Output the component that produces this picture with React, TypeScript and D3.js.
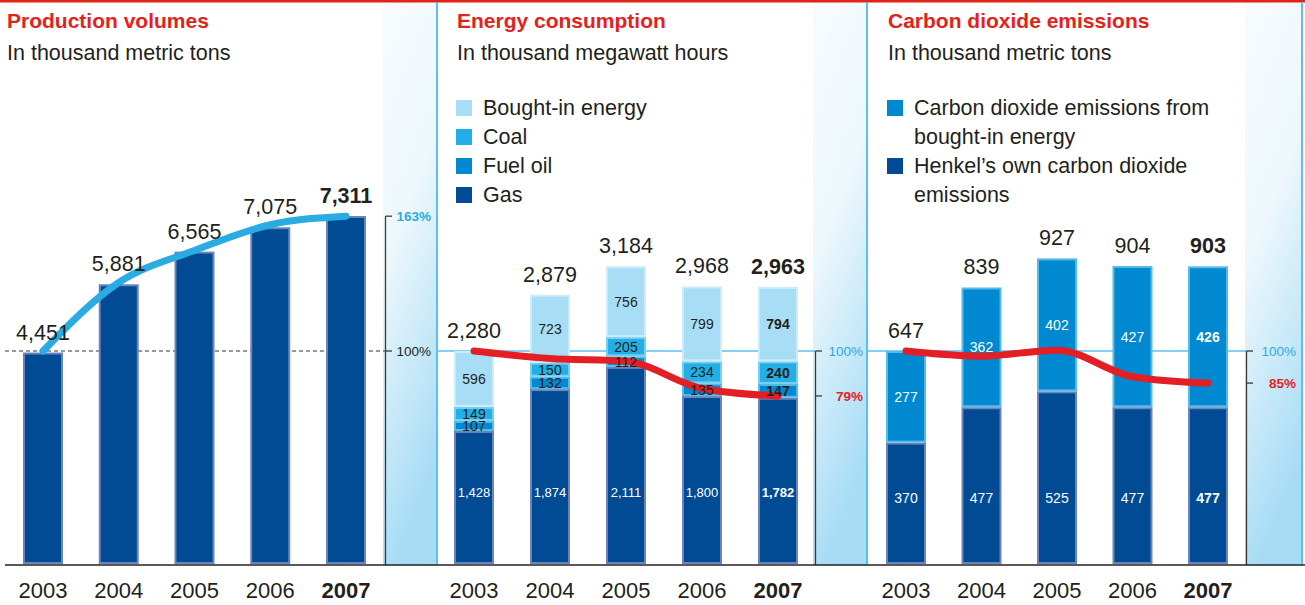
import React, { useEffect } from "react";
import * as d3 from "d3";

// ---------- data ----------
const years = ["2003", "2004", "2005", "2006", "2007"];

const production = [4451, 5881, 6565, 7075, 7311];
const productionIndex = [100, 132, 147, 159, 163];

const energyGas = [1428, 1874, 2111, 1800, 1782];
const energyFuelOil = [107, 132, 112, 135, 147];
const energyCoal = [149, 150, 205, 234, 240];
const energyBought = [596, 723, 756, 799, 794];
const energyTotal = [2280, 2879, 3184, 2968, 2963];
const energyIndex = [100, 96.5, 95.2, 82.5, 79];

const co2Own = [370, 477, 525, 477, 477];
const co2Bought = [277, 362, 402, 427, 426];
const co2Total = [647, 839, 927, 904, 903];
const co2Index = [100, 97.6, 100.4, 88, 85];

const energyLegend = ["Bought-in energy", "Coal", "Fuel oil", "Gas"];
const co2Legend = [
  ["Carbon dioxide emissions from", "bought-in energy"],
  ["Henkel\u2019s own carbon dioxide", "emissions"],
];

const FONT = "'Liberation Sans', Arial, Helvetica, sans-serif";
const C = {
  navy: "#004b93",
  navyStroke: "#6c84bc",
  mid: "#0089d0",
  midStroke: "#55bbe8",
  coal: "#22afe6",
  coalStroke: "#76cef0",
  light: "#a8ddf6",
  lightStroke: "#cbedfb",
  line: "#2aabe2",
  red: "#e31e24",
  title: "#e2231a",
  text: "#231f20",
  divider: "#5bc0eb",
  axis: "#3a3a3a",
};

const fmt = d3.format(",");

type Seg = { y0: number; y1: number; fill: string; stroke: string };

function SegRect({ x, w, top, bottom, fill, stroke }: any) {
  const h = bottom - top;
  return (
    <rect
      x={x + 1}
      y={top + 1}
      width={w - 2}
      height={Math.max(0, h - 2)}
      fill={fill}
      stroke={stroke}
      strokeWidth={2}
    />
  );
}

export default function App() {
  useEffect(() => {
    document.body.style.margin = "0";
    document.body.style.overflow = "hidden";
  }, []);

  const W = 1305;
  const H = 605;
  const base = 565;
  const barW = 40;

  const x1 = d3.scalePoint<string>().domain(years).range([43, 346]);
  const x2 = d3.scalePoint<string>().domain(years).range([474, 778]);
  const x3 = d3.scalePoint<string>().domain(years).range([906, 1208]);

  const yProd = d3.scaleLinear().domain([0, 7311]).range([base, 216]);
  const yEnergy = d3.scaleLinear().domain([0, 2280]).range([base, 351]);
  const yCo2 = d3.scaleLinear().domain([0, 647]).range([base, 351]);
  const yIdx = d3.scaleLinear().domain([0, 100]).range([base, 351]);

  const idxLine = (x: d3.ScalePoint<string>, vals: number[]) =>
    d3
      .line<number>()
      .x((_, i) => x(years[i]) as number)
      .y((d) => yIdx(d))
      .curve(d3.curveMonotoneX)(vals) as string;

  const energyRows = years.map((y, i) => ({
    year: y,
    gas: energyGas[i],
    fuel: energyFuelOil[i],
    coal: energyCoal[i],
    bought: energyBought[i],
  }));
  const energyKeys = ["gas", "fuel", "coal", "bought"];
  const energyStack = d3.stack<any>().keys(energyKeys)(energyRows);
  const energyFill: Record<string, [string, string]> = {
    gas: [C.navy, C.navyStroke],
    fuel: [C.mid, C.midStroke],
    coal: [C.coal, C.coalStroke],
    bought: [C.light, C.lightStroke],
  };

  const co2Rows = years.map((y, i) => ({ year: y, own: co2Own[i], bought: co2Bought[i] }));
  const co2Stack = d3.stack<any>().keys(["own", "bought"])(co2Rows);
  const co2Fill: Record<string, [string, string]> = {
    own: [C.navy, C.navyStroke],
    bought: [C.mid, C.midStroke],
  };

  const legendColors = [C.light, C.coal, C.mid, C.navy];

  const strips = [
    [383, 437],
    [813, 867],
    [1245, 1302],
  ];

  const isLast = (i: number) => i === years.length - 1;

  return (
    <svg
      width={W}
      height={H}
      style={{ position: "absolute", left: 0, top: 0, fontFamily: FONT }}
    >
      <defs>
        <linearGradient id="strip" x1="0" y1="0" x2="0.25" y2="1">
          <stop offset="0" stopColor="#f7fcfe" />
          <stop offset="0.45" stopColor="#edf7fc" />
          <stop offset="1" stopColor="#a7dcf5" />
        </linearGradient>
      </defs>
      <rect x={0} y={0} width={W} height={H} fill="#fff" />

      {/* strips */}
      {strips.map(([a, b], i) => (
        <rect key={i} x={a} y={2} width={b - a} height={base - 2} fill="url(#strip)" />
      ))}

      {/* top red rule */}
      <rect x={0} y={0} width={W} height={2.5} fill={C.title} />

      {/* panel dividers */}
      {[437, 867, 1302].map((x) => (
        <line key={x} x1={x} x2={x} y1={2} y2={base} stroke={C.divider} strokeWidth={2} />
      ))}

      {/* titles */}
      {[
        [7, "Production volumes", "In thousand metric tons"],
        [457, "Energy consumption", "In thousand megawatt hours"],
        [888, "Carbon dioxide emissions", "In thousand metric tons"],
      ].map(([x, t, s]) => (
        <g key={t as string}>
          <text x={x as number} y={28} fontSize={21} fontWeight="bold" fill={C.title}>
            {t}
          </text>
          <text x={x as number} y={60} fontSize={21.5} fill={C.text}>
            {s}
          </text>
        </g>
      ))}

      {/* energy legend */}
      {energyLegend.map((l, i) => (
        <g key={l}>
          <rect x={456} y={100 + i * 29} width={16} height={16} fill={legendColors[i]} />
          <text x={483} y={115 + i * 29} fontSize={21.5} fill={C.text}>
            {l}
          </text>
        </g>
      ))}

      {/* co2 legend */}
      {co2Legend.map((lines, i) => (
        <g key={i}>
          <rect x={887} y={100 + i * 58} width={16} height={16} fill={i === 0 ? C.mid : C.navy} />
          {lines.map((ln, j) => (
            <text key={j} x={914} y={115 + i * 58 + j * 29} fontSize={21.5} fill={C.text}>
              {ln}
            </text>
          ))}
        </g>
      ))}

      {/* 100% reference lines */}
      <line x1={5} x2={385} y1={yIdx(100)} y2={yIdx(100)} stroke="#333" strokeWidth={1} strokeDasharray="4 3" />
      <line x1={437} x2={815} y1={yIdx(100)} y2={yIdx(100)} stroke={C.divider} strokeWidth={1.5} />
      <line x1={867} x2={1246} y1={yIdx(100)} y2={yIdx(100)} stroke={C.divider} strokeWidth={1.5} />

      {/* panel 1 bars */}
      {production.map((v, i) => (
        <SegRect
          key={i}
          x={(x1(years[i]) as number) - barW / 2}
          w={barW}
          top={yProd(v)}
          bottom={base - 1}
          fill={C.navy}
          stroke={C.navyStroke}
        />
      ))}

      {/* panel 2 bars */}
      {energyStack.map((s) =>
        s.map((d, i) => (
          <SegRect
            key={s.key + i}
            x={(x2(years[i]) as number) - barW / 2}
            w={barW}
            top={yEnergy(d[1])}
            bottom={s.key === "gas" ? base - 1 : yEnergy(d[0])}
            fill={energyFill[s.key][0]}
            stroke={energyFill[s.key][1]}
          />
        ))
      )}

      {/* panel 3 bars */}
      {co2Stack.map((s) =>
        s.map((d, i) => (
          <SegRect
            key={s.key + i}
            x={(x3(years[i]) as number) - barW / 2}
            w={barW}
            top={yCo2(d[1])}
            bottom={s.key === "own" ? base - 1 : yCo2(d[0])}
            fill={co2Fill[s.key][0]}
            stroke={co2Fill[s.key][1]}
          />
        ))
      )}

      {/* index lines */}
      <path d={idxLine(x1, productionIndex)} fill="none" stroke={C.line} strokeWidth={7} strokeLinecap="round" strokeLinejoin="round" />
      <path d={idxLine(x2, energyIndex)} fill="none" stroke={C.red} strokeWidth={7} strokeLinecap="round" strokeLinejoin="round" />
      <path d={idxLine(x3, co2Index)} fill="none" stroke={C.red} strokeWidth={7} strokeLinecap="round" strokeLinejoin="round" />

      {/* panel 1 value labels */}
      {production.map((v, i) => (
        <text
          key={i}
          x={x1(years[i])}
          y={yProd(v) - 13}
          textAnchor="middle"
          fontSize={21.5}
          fontWeight={isLast(i) ? "bold" : "normal"}
          fill={C.text}
        >
          {fmt(v)}
        </text>
      ))}

      {/* panel 2 labels */}
      {energyTotal.map((v, i) => (
        <text
          key={i}
          x={x2(years[i])}
          y={yEnergy(v) - 13}
          textAnchor="middle"
          fontSize={21.5}
          fontWeight={isLast(i) ? "bold" : "normal"}
          fill={C.text}
        >
          {fmt(v)}
        </text>
      ))}
      {energyStack.map((s) =>
        s.map((d, i) =>
          s.key === "gas" ? (
            <text
              key={s.key + i}
              x={x2(years[i])}
              y={497}
              textAnchor="middle"
              fontSize={13}
              fontWeight={isLast(i) ? "bold" : "normal"}
              fill="#fff"
            >
              {fmt(d[1] - d[0])}
            </text>
          ) : (
            <text
              key={s.key + i}
              x={x2(years[i])}
              y={(yEnergy(d[0]) + yEnergy(d[1])) / 2}
              dy="0.36em"
              textAnchor="middle"
              fontSize={14}
              fontWeight={isLast(i) ? "bold" : "normal"}
              fill={C.text}
            >
              {fmt(d[1] - d[0])}
            </text>
          )
        )
      )}

      {/* panel 3 labels */}
      {co2Total.map((v, i) => (
        <text
          key={i}
          x={x3(years[i])}
          y={yCo2(v) - 13}
          textAnchor="middle"
          fontSize={21.5}
          fontWeight={isLast(i) ? "bold" : "normal"}
          fill={C.text}
        >
          {fmt(v)}
        </text>
      ))}
      {co2Stack.map((s) =>
        s.map((d, i) => (
          <text
            key={s.key + i}
            x={x3(years[i])}
            y={s.key === "own" ? 503 : (yCo2(d[0]) + yCo2(d[1])) / 2}
            dy={s.key === "own" ? 0 : "0.36em"}
            textAnchor="middle"
            fontSize={14}
            fontWeight={isLast(i) ? "bold" : "normal"}
            fill="#fff"
          >
            {fmt(d[1] - d[0])}
          </text>
        ))
      )}

      {/* right axes */}
      <g stroke={C.axis} strokeWidth={1.3} fill="none">
        <line x1={385.5} x2={385.5} y1={yIdx(163)} y2={base} />
        <line x1={385.5} x2={392} y1={yIdx(163)} y2={yIdx(163)} />
        <line x1={385.5} x2={392} y1={yIdx(100)} y2={yIdx(100)} />
        <line x1={815.5} x2={815.5} y1={yIdx(100)} y2={base} />
        <line x1={815.5} x2={822} y1={yIdx(100)} y2={yIdx(100)} />
        <line x1={815.5} x2={822} y1={yIdx(79)} y2={yIdx(79)} />
        <line x1={1246.5} x2={1246.5} y1={yIdx(100)} y2={base} />
        <line x1={1246.5} x2={1253} y1={yIdx(100)} y2={yIdx(100)} />
        <line x1={1246.5} x2={1253} y1={yIdx(85)} y2={yIdx(85)} />
      </g>
      <g fontSize={13.5} textAnchor="end">
        <text x={431} y={yIdx(163)} dy="0.36em" fontWeight="bold" fill={C.line}>163%</text>
        <text x={431} y={yIdx(100)} dy="0.36em" fill={C.text}>100%</text>
        <text x={863} y={yIdx(100)} dy="0.36em" fill={C.line}>100%</text>
        <text x={863} y={yIdx(79)} dy="0.36em" fontWeight="bold" fill={C.red}>79%</text>
        <text x={1296} y={yIdx(100)} dy="0.36em" fill={C.line}>100%</text>
        <text x={1296} y={yIdx(85)} dy="0.36em" fontWeight="bold" fill={C.red}>85%</text>
      </g>

      {/* baseline */}
      <line x1={5} x2={W} y1={base} y2={base} stroke="#222" strokeWidth={1.5} />

      {/* year labels */}
      {[x1, x2, x3].map((xs, p) =>
        years.map((y, i) => (
          <text
            key={p + y}
            x={xs(y)}
            y={598}
            textAnchor="middle"
            fontSize={22}
            fontWeight={isLast(i) ? "bold" : "normal"}
            fill={C.text}
          >
            {y}
          </text>
        ))
      )}
    </svg>
  );
}
